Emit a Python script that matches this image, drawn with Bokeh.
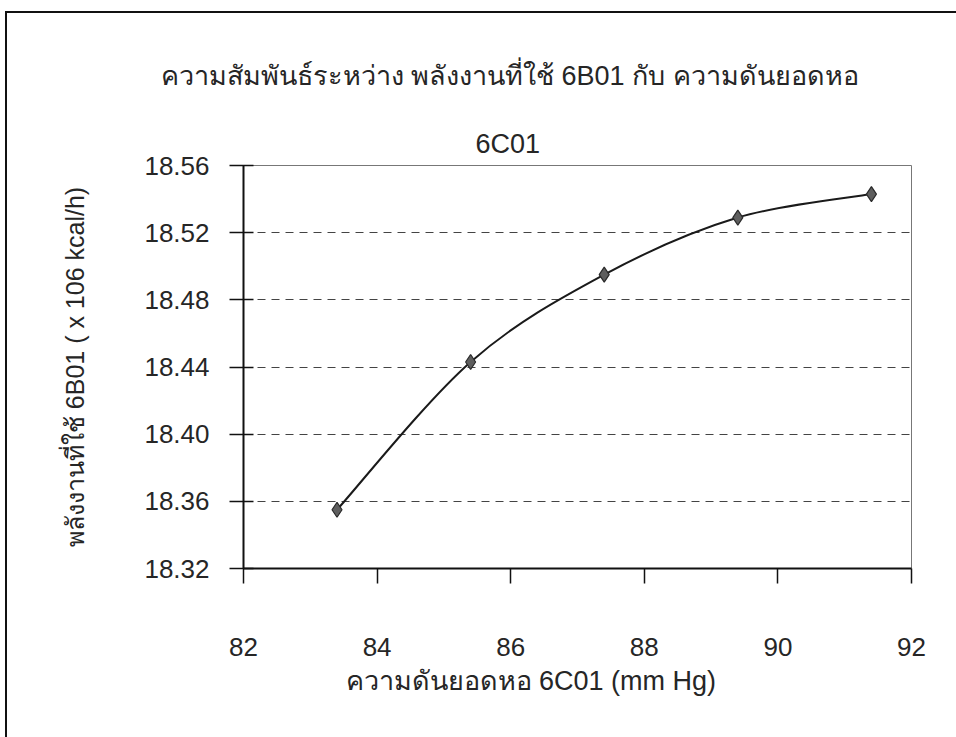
from bokeh.plotting import figure
from bokeh.models import (Range1d, FixedTicker, PrintfTickFormatter, Title,
                          ColumnDataSource)
from bokeh.embed import file_html
from bokeh.resources import INLINE

# ---- data ----
pressure = [83.4, 85.4, 87.4, 89.4, 91.4]          # ความดันยอดหอ 6C01 (mm Hg)
energy = [18.355, 18.443, 18.495, 18.529, 18.543]   # พลังงานที่ใช้ 6B01
x_ticks = [82, 84, 86, 88, 90, 92]
y_ticks = [18.32, 18.36, 18.40, 18.44, 18.48, 18.52, 18.56]

title1 = "ความสัมพันธ์ระหว่าง พลังงานที่ใช้ 6B01 กับ ความดันยอดหอ"
title2 = "6C01"
x_title = "ความดันยอดหอ 6C01 (mm Hg)"
y_title = "พลังงานที่ใช้ 6B01 ( x 106 kcal/h)"

FONT = "Liberation Sans"
TXT = "#262626"
W, H = 956, 737
L, R, T, B = 243, 45, 165, 169

p = figure(width=W, height=H, output_backend="svg", toolbar_location=None,
           x_range=Range1d(82, 92), y_range=Range1d(18.32, 18.56),
           min_border_left=L, min_border_right=R, min_border_top=T, min_border_bottom=B)
p.background_fill_color = "white"
p.border_fill_alpha = 0
p.outline_line_color = "#777777"
p.outline_line_width = 1
# outer chart frame (left and top edges visible; the rest runs off the picture)
p.styles = {
    "background-color": "white",
    "background-image": "linear-gradient(#111,#111), linear-gradient(#111,#111)",
    "background-size": "2px 737px, 956px 2px",
    "background-position": "5px 11px, 5px 11px",
    "background-repeat": "no-repeat",
}

# axes
p.xaxis.ticker = FixedTicker(ticks=x_ticks)
p.yaxis.ticker = FixedTicker(ticks=y_ticks)
p.yaxis.formatter = PrintfTickFormatter(format="%.2f")
p.xaxis.formatter = PrintfTickFormatter(format="%d")
for ax in (p.xaxis, p.yaxis):
    ax.axis_line_color = "#111111"
    ax.axis_line_width = 2
    ax.major_tick_line_color = "#111111"
    ax.major_tick_line_width = 1.5
    ax.minor_tick_line_color = None
    ax.major_label_text_font = FONT
    ax.major_label_text_font_size = "26px"
    ax.major_label_text_color = TXT
    ax.axis_label_text_font = FONT
    ax.axis_label_text_font_style = "normal"
    ax.axis_label_text_color = TXT
p.xaxis.major_tick_out = 15
p.xaxis.major_tick_in = 0
p.xaxis.major_label_standoff = 54
p.yaxis.major_tick_out = 14
p.yaxis.major_tick_in = 10
p.yaxis.major_label_standoff = 20
p.yaxis.axis_label = y_title
p.yaxis.axis_label_text_font_size = "25px"
p.yaxis.axis_label_standoff = 52

# x axis title placed below the axis, shifted left like the reference
p.add_layout(Title(text=x_title, align="left", offset=345 - L, vertical_align="middle",
                   standoff=12, text_font=FONT, text_font_size="27px",
                   text_font_style="normal", text_color=TXT), "below")

# chart titles (nearest the frame added first)
p.add_layout(Title(text=title2, align="left", offset=475 - L, vertical_align="middle",
                   standoff=12, text_font=FONT, text_font_size="27px",
                   text_font_style="normal", text_color=TXT), "above")
p.add_layout(Title(text=title1, align="left", offset=160 - L, vertical_align="middle",
                   standoff=60, text_font=FONT, text_font_size="27px",
                   text_font_style="normal", text_color=TXT), "above")

# grid
p.xgrid.grid_line_color = None
p.ygrid.ticker = FixedTicker(ticks=y_ticks[1:-1])
p.ygrid.grid_line_color = "#444444"
p.ygrid.grid_line_width = 1.2
p.ygrid.grid_line_dash = "8 6"

# smoothed line (Catmull-Rom -> cubic Bezier), built from the data
n = len(pressure)
px = [pressure[0]] + pressure + [pressure[-1]]
py = [energy[0]] + energy + [energy[-1]]
seg = dict(x0=[], y0=[], x1=[], y1=[], cx0=[], cy0=[], cx1=[], cy1=[])
for i in range(n - 1):
    a, b, c, d = i, i + 1, i + 2, i + 3
    seg["x0"].append(px[b]); seg["y0"].append(py[b])
    seg["x1"].append(px[c]); seg["y1"].append(py[c])
    seg["cx0"].append(px[b] + (px[c] - px[a]) / 6)
    seg["cy0"].append(py[b] + (py[c] - py[a]) / 6)
    seg["cx1"].append(px[c] - (px[d] - px[b]) / 6)
    seg["cy1"].append(py[c] - (py[d] - py[b]) / 6)
p.bezier(x0="x0", y0="y0", x1="x1", y1="y1", cx0="cx0", cy0="cy0",
         cx1="cx1", cy1="cy1", source=ColumnDataSource(seg),
         line_color="#1a1a1a", line_width=2)

p.scatter(pressure, energy, marker="diamond", size=15,
          fill_color="#5e5e5e", line_color="#2a2a2a", line_width=1.2)

open("out.html", "w").write(file_html(p, INLINE))
